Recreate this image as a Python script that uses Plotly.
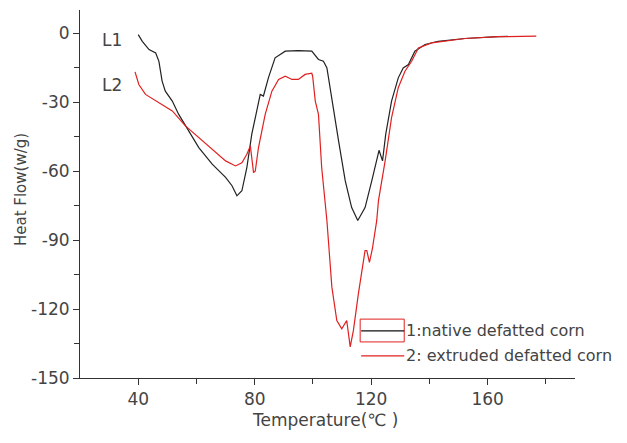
import plotly.graph_objects as go

# L1: native defatted corn
t1 = [40, 41.4, 43.7, 46, 47.1, 48.2, 49.3, 51.7, 53.9, 57.4, 60.8, 65.4, 70, 72.2, 73.9,
      75.6, 77.3, 79, 80.8, 81.9, 83, 84.7, 87, 90.5, 95, 99.6, 101.9, 103.6, 104.8,
      106.5, 108.8, 111.1, 113.3, 115.4, 117.9, 120.2, 122.7, 123.9, 125, 127, 129.3,
      131, 132.8, 135, 138.5, 143, 152.2, 163.6, 167]
h1 = [-0.7, -3.6, -7.2, -8.7, -12.3, -20.9, -25.3, -29.6, -35.4, -42.6, -49.8, -57, -62.8,
      -66.4, -70.8, -68.6, -58.5, -44, -32.5, -26.7, -27.4, -19.5, -10.8, -7.9, -7.7, -7.9,
      -11.5, -12.3, -15.2, -29.6, -46.9, -64.3, -75.9, -81.5, -75.9, -64.3, -51, -55.6,
      -44, -29.6, -19.5, -15.2, -13.7, -7.9, -5, -3.6, -2.4, -1.6, -1.5]

# L2: extruded defatted corn
t2 = [38.9, 40.2, 42.5, 47.1, 51.7, 56.2, 60.8, 65.4, 70, 73.4, 75.6, 77.3, 78.5, 79.6,
      80.2, 81.3, 83.6, 85.9, 88.2, 90.5, 92.8, 95, 97.3, 99.6, 99.9, 100.8, 101.9, 103,
      104.8, 106.5, 108.2, 109.9, 111.6, 112.8, 113.9, 115.6, 117.9, 118.5, 119.4, 120.4,
      121.9, 122.5, 124.8, 127, 129.3, 131.6, 133.9, 136.2, 140.8, 152.2, 163.6, 176.7]
h2 = [-16.9, -22.4, -26.7, -30.3, -33.9, -40.4, -45.5, -50.5, -55.6, -57.8, -56.4, -52.7,
      -49.1, -60.7, -60, -49.8, -35.4, -25.3, -20.2, -18.8, -20.2, -20.2, -18, -17.5,
      -18.8, -29.6, -35.4, -58.5, -81.6, -110.5, -125, -128.6, -125, -136.5, -129.3,
      -113.4, -94.6, -94.6, -99.7, -93.9, -81.6, -72.9, -55.6, -36.8, -23.8, -16.6,
      -12.3, -6.5, -4.3, -2.4, -1.6, -1.4]

x_ticks = [40, 80, 120, 160]
x_labels = ["40", "80", "120", "160"]
y_ticks = [0, -30, -60, -90, -120, -150]
y_labels = ["0", "-30", "-60", "-90", "-120", "-150"]

fig = go.Figure()
fig.add_trace(go.Scatter(x=t1, y=h1, mode="lines", line=dict(color="#222222", width=1.2),
                         showlegend=False))
fig.add_trace(go.Scatter(x=t2, y=h2, mode="lines", line=dict(color="#e02020", width=1.2),
                         showlegend=False))

font = "DejaVu Sans, Verdana, sans-serif"
fig.update_layout(
    width=619, height=435,
    margin=dict(l=72, r=52, t=2, b=65),
    paper_bgcolor="white", plot_bgcolor="white",
    font=dict(family=font, size=17, color="#444444"),
    xaxis=dict(range=[20, 190], tickvals=x_ticks, ticktext=x_labels, ticks="outside",
               ticklen=6, tickcolor="#333", showline=True, linecolor="#333", linewidth=1,
               showgrid=False, zeroline=False, automargin=False,
               minor=dict(tickvals=[60, 100, 140, 180], ticks="outside", ticklen=5,
                          tickcolor="#333")),
    yaxis=dict(range=[-150, 10], tickvals=y_ticks, ticktext=y_labels, ticks="outside",
               ticklen=6, tickcolor="#333", showline=True, linecolor="#333", linewidth=1,
               showgrid=False, zeroline=False, automargin=False,
               minor=dict(tickvals=[-15, -45, -75, -105, -135], ticks="outside",
                          ticklen=5, tickcolor="#333")),
)

# axis titles
fig.add_annotation(x=0.495, y=-0.114, xref="paper", yref="paper", text="Temperature(℃ )",
                   showarrow=False, xanchor="center", yanchor="middle", font=dict(size=17))
fig.add_annotation(x=-0.119, y=0.511, xref="paper", yref="paper", text="Heat Flow(w/g)",
                   showarrow=False, xanchor="center", yanchor="middle", textangle=-90,
                   font=dict(size=15))

# curve labels
fig.add_annotation(x=0.04, y=0.918, xref="paper", yref="paper", text="L1", showarrow=False,
                   xanchor="left", yanchor="middle", font=dict(size=17))
fig.add_annotation(x=0.04, y=0.796, xref="paper", yref="paper", text="L2", showarrow=False,
                   xanchor="left", yanchor="middle", font=dict(size=17))

# legend drawn manually
fig.add_shape(type="rect", xref="paper", yref="paper", x0=0.566, x1=0.655, y0=0.098, y1=0.160,
              line=dict(color="#e02020", width=1))
fig.add_shape(type="line", xref="paper", yref="paper", x0=0.568, x1=0.655, y0=0.128, y1=0.128,
              line=dict(color="#111", width=1.2))
fig.add_shape(type="line", xref="paper", yref="paper", x0=0.568, x1=0.655, y0=0.060, y1=0.060,
              line=dict(color="#e02020", width=1.2))
fig.add_annotation(x=0.655, y=0.128, xref="paper", yref="paper", text="1:native defatted corn",
                   showarrow=False, xanchor="left", yanchor="middle", font=dict(size=16))
fig.add_annotation(x=0.655, y=0.060, xref="paper", yref="paper", text="2: extruded defatted corn",
                   showarrow=False, xanchor="left", yanchor="middle", font=dict(size=16))

fig.write_html("out.html")
